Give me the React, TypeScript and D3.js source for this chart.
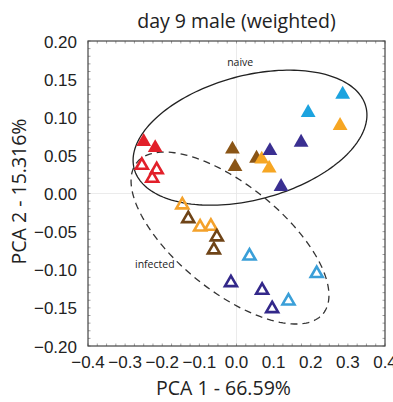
import React, { useRef, useEffect } from "react";
import * as d3 from "d3";

interface Pt {
  x: number;
  y: number;
  group: string;
  filled: boolean;
}

// naive (filled triangles)
const naiveRed = [[-0.25, 0.068], [-0.219, 0.06]];
const naiveBrown = [[-0.011, 0.058], [-0.004, 0.035], [0.054, 0.046]];
const naiveOrange = [[0.068, 0.045], [0.088, 0.033], [0.279, 0.089]];
const naivePurple = [[0.09, 0.056], [0.174, 0.067], [0.12, 0.009]];
const naiveCyan = [[0.193, 0.106], [0.286, 0.13]];

// infected (open triangles)
const infRed = [[-0.255, 0.037], [-0.215, 0.031], [-0.227, 0.02]];
const infOrange = [[-0.146, -0.015], [-0.098, -0.044], [-0.069, -0.043]];
const infBrown = [[-0.13, -0.033], [-0.053, -0.057], [-0.061, -0.074]];
const infCyan = [[0.035, -0.082], [0.216, -0.105], [0.14, -0.141]];
const infPurple = [[-0.015, -0.117], [0.069, -0.127], [0.096, -0.151]];

const xTicks = [-0.4, -0.3, -0.2, -0.1, 0.0, 0.1, 0.2, 0.3, 0.4];
const yTicks = [-0.2, -0.15, -0.1, -0.05, 0.0, 0.05, 0.1, 0.15, 0.2];

// ellipses: centre, major axis vector, minor axis vector (data units)
const naiveEllipse = { c: [0.0364, 0.0732], u: [0.312, 0.0408], v: [-0.043, 0.0786] };
const infEllipse = { c: [-0.0175, -0.0584], u: [0.251, -0.099], v: [0.0897, 0.054] };

const colors: Record<string, string> = {
  red: "#e2202a",
  brown: "#8a5516",
  orange: "#f6a623",
  purple: "#3a2f91",
  cyan: "#1ca3df",
};
const openColors: Record<string, string> = {
  red: "#e2202a",
  brown: "#6f4417",
  orange: "#f4a12a",
  purple: "#33288a",
  cyan: "#3a9fd8",
};

const toPts = (arr: number[][], group: string, filled: boolean): Pt[] =>
  arr.map(([x, y]) => ({ x, y, group, filled }));

const points: Pt[] = [
  ...toPts(naiveRed, "red", true),
  ...toPts(naiveBrown, "brown", true),
  ...toPts(naiveOrange, "orange", true),
  ...toPts(naivePurple, "purple", true),
  ...toPts(naiveCyan, "cyan", true),
  ...toPts(infRed, "red", false),
  ...toPts(infOrange, "orange", false),
  ...toPts(infBrown, "brown", false),
  ...toPts(infCyan, "cyan", false),
  ...toPts(infPurple, "purple", false),
];

const W = 393;
const H = 402;

const Chart: React.FC = () => {
  const ref = useRef<SVGSVGElement | null>(null);

  useEffect(() => {
    if (!ref.current) return;
    const svg = d3.select(ref.current);
    svg.selectAll("*").remove();

    const margin = { top: 41, right: 8, bottom: 56, left: 88 };
    const width = W - margin.left - margin.right;
    const height = H - margin.top - margin.bottom;

    const x = d3.scaleLinear().domain([-0.4, 0.4]).range([0, width]);
    const y = d3.scaleLinear().domain([-0.2, 0.2]).range([height, 0]);

    const g = svg.append("g").attr("transform", `translate(${margin.left},${margin.top})`);

    // light zero lines
    g.append("line")
      .attr("x1", x(0)).attr("x2", x(0))
      .attr("y1", 0).attr("y2", height)
      .attr("stroke", "#e6e6e6").attr("stroke-width", 0.8);
    g.append("line")
      .attr("x1", 0).attr("x2", width)
      .attr("y1", y(0)).attr("y2", y(0))
      .attr("stroke", "#e6e6e6").attr("stroke-width", 0.8);

    // minor ticks on all four sides, pointing inwards
    const xMinor = d3.range(-0.4, 0.4001, 0.025);
    const yMinor = d3.range(-0.2, 0.2001, 0.01);
    const tk = g.append("g").attr("stroke", "#888").attr("stroke-width", 0.8);
    xMinor.forEach((v) => {
      tk.append("line").attr("x1", x(v)).attr("x2", x(v)).attr("y1", height).attr("y2", height - 2.5);
      tk.append("line").attr("x1", x(v)).attr("x2", x(v)).attr("y1", 0).attr("y2", 2.5);
    });
    yMinor.forEach((v) => {
      tk.append("line").attr("x1", 0).attr("x2", 2.5).attr("y1", y(v)).attr("y2", y(v));
      tk.append("line").attr("x1", width).attr("x2", width - 2.5).attr("y1", y(v)).attr("y2", y(v));
    });

    // frame
    g.append("rect")
      .attr("width", width).attr("height", height)
      .attr("fill", "none").attr("stroke", "#444").attr("stroke-width", 1.2);

    // tick labels
    g.append("g")
      .selectAll("text")
      .data(xTicks)
      .join("text")
      .attr("x", (d) => x(d))
      .attr("y", height + 22)
      .attr("text-anchor", "middle")
      .attr("font-family", "'Liberation Sans', Arial, sans-serif")
      .attr("font-size", 17)
      .attr("fill", "#222")
      .text((d) => d3.format(".1f")(d));

    g.append("g")
      .selectAll("text")
      .data(yTicks)
      .join("text")
      .attr("x", -11)
      .attr("y", (d) => y(d) + 6.5)
      .attr("text-anchor", "end")
      .attr("font-family", "'Liberation Sans', Arial, sans-serif")
      .attr("font-size", 17)
      .attr("fill", "#222")
      .text((d) => d3.format(".2f")(d));

    // ellipses
    const ellipsePath = (e: { c: number[]; u: number[]; v: number[] }) => {
      const ts = d3.range(0, Math.PI * 2, Math.PI / 90);
      const line = d3
        .line<number>()
        .x((t) => x(e.c[0] + e.u[0] * Math.cos(t) + e.v[0] * Math.sin(t)))
        .y((t) => y(e.c[1] + e.u[1] * Math.cos(t) + e.v[1] * Math.sin(t)))
        .curve(d3.curveLinearClosed);
      return line(ts);
    };

    g.append("path")
      .attr("d", ellipsePath(naiveEllipse))
      .attr("fill", "none")
      .attr("stroke", "#222")
      .attr("stroke-width", 1.3);

    g.append("path")
      .attr("d", ellipsePath(infEllipse))
      .attr("fill", "none")
      .attr("stroke", "#333")
      .attr("stroke-width", 1.3)
      .attr("stroke-dasharray", "7,5");

    // triangles
    const filledTri = d3.symbol().type(d3.symbolTriangle).size(95);
    const openTri = d3.symbol().type(d3.symbolTriangle).size(62);

    g.append("g")
      .selectAll("path")
      .data(points)
      .join("path")
      .attr("transform", (d) => `translate(${x(d.x)},${y(d.y)})`)
      .attr("d", (d) => (d.filled ? filledTri() : openTri()))
      .attr("fill", (d) => (d.filled ? colors[d.group] : "#fff"))
      .attr("fill-opacity", (d) => (d.filled ? 1 : 0))
      .attr("stroke", (d) => (d.filled ? "none" : openColors[d.group]))
      .attr("stroke-width", 2.6)
      .attr("stroke-linejoin", "miter");

    // group labels
    g.append("text")
      .attr("x", x(0.01))
      .attr("y", y(0.167))
      .attr("text-anchor", "middle")
      .attr("font-family", "'Open Sans', sans-serif")
      .attr("font-size", 10.5)
      .attr("fill", "#222")
      .text("naive");

    g.append("text")
      .attr("x", x(-0.22))
      .attr("y", y(-0.098))
      .attr("text-anchor", "middle")
      .attr("font-family", "'Open Sans', sans-serif")
      .attr("font-size", 10.5)
      .attr("fill", "#222")
      .text("infected");

    // title and axis titles
    svg.append("text")
      .attr("x", margin.left + x(0))
      .attr("y", 28)
      .attr("text-anchor", "middle")
      .attr("font-family", "'Open Sans', sans-serif")
      .attr("font-size", 19.5)
      .attr("fill", "#222")
      .text("day 9 male (weighted)");

    svg.append("text")
      .attr("x", margin.left + x(0) - 13)
      .attr("y", 395)
      .attr("text-anchor", "middle")
      .attr("font-family", "'Open Sans', sans-serif")
      .attr("font-size", 19.5)
      .attr("fill", "#222")
      .text("PCA 1 - 66.59%");

    svg.append("text")
      .attr("transform", `translate(26,${margin.top + y(0) - 2}) rotate(-90)`)
      .attr("text-anchor", "middle")
      .attr("font-family", "'Open Sans', sans-serif")
      .attr("font-size", 19.5)
      .attr("fill", "#222")
      .text("PCA 2 - 15.316%");
  }, []);

  return (
    <svg
      ref={ref}
      width={W}
      height={H}
      style={{ position: "absolute", left: 0, top: 0, background: "#fff" }}
    />
  );
};

export default function App() {
  return <Chart />;
}
